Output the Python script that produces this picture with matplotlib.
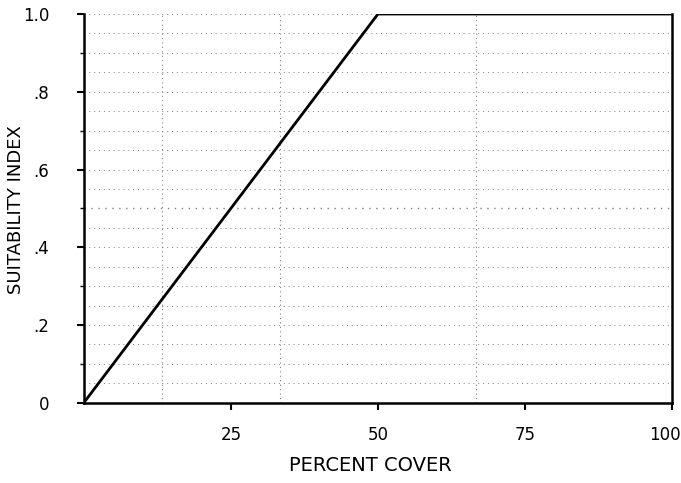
import matplotlib
matplotlib.use("Agg")
import matplotlib.pyplot as plt
import matplotlib.transforms as mtransforms
import numpy as np

# suitability curve
percent_cover = [0, 50, 100]
suitability = [0.0, 1.0, 1.0]

x_ticks = [25, 50, 75, 100]
x_labels = ["25", "50", "75", "100"]
y_ticks = [0, 0.2, 0.4, 0.6, 0.8, 1.0]
y_labels = ["0", ".2", ".4", ".6", ".8", "1.0"]

# faint graph-paper lines in the background
paper_rows = np.arange(0.05, 1.0, 0.05)
paper_cols = [13.3, 33.3, 66.7]

fig = plt.figure(figsize=(6.81, 4.83), dpi=100)
ax = fig.add_axes([0.123, 0.166, 0.864, 0.805])

for yv in paper_rows:
    lw = 1.0 if abs(yv - 0.5) < 1e-6 else 0.7
    ax.axhline(yv, color="#808080", lw=lw, ls=(0, (1, 4)), zorder=1)
ax.axhline(1.0, xmax=0.5, color="#808080", lw=0.7, ls=(0, (1, 4)), zorder=1)
for xv in paper_cols:
    ax.axvline(xv, color="#808080", lw=0.8, ls=(0, (1, 3)), zorder=1)

ax.plot(percent_cover, suitability, color="black", lw=2.0, zorder=3,
        solid_capstyle="round", solid_joinstyle="miter")

ax.set_xlim(0, 100)
ax.set_ylim(0, 1.0)
ax.spines["top"].set_visible(False)
for s in ["left", "bottom", "right"]:
    ax.spines[s].set_linewidth(1.8)

ax.set_xticks(x_ticks)
ax.set_xticklabels(x_labels)
ax.set_yticks(y_ticks)
ax.set_yticklabels(y_labels)
ax.set_yticks(np.arange(0.1, 1.0, 0.2), minor=True)
ax.tick_params(axis="both", which="major", length=5, width=1.5, labelsize=12)
ax.tick_params(axis="x", which="major", pad=12)
ax.tick_params(axis="y", which="major", pad=20)
ax.tick_params(axis="y", which="minor", length=3, width=1.0)

# keep "100" inside the picture
last = ax.get_xticklabels()[-1]
last.set_transform(last.get_transform() +
                   mtransforms.ScaledTranslation(-5 / 72, 0, fig.dpi_scale_trans))

ax.set_xlabel("PERCENT COVER", fontsize=14)
ax.xaxis.set_label_coords((370 - 84) / 588, -(456 - 403) / 389)
ax.set_ylabel("SUITABILITY INDEX", fontsize=13)
ax.yaxis.set_label_coords(-(84 - 25) / 588, (403 - 210) / 389)

fig.savefig("out.png", dpi=100)
